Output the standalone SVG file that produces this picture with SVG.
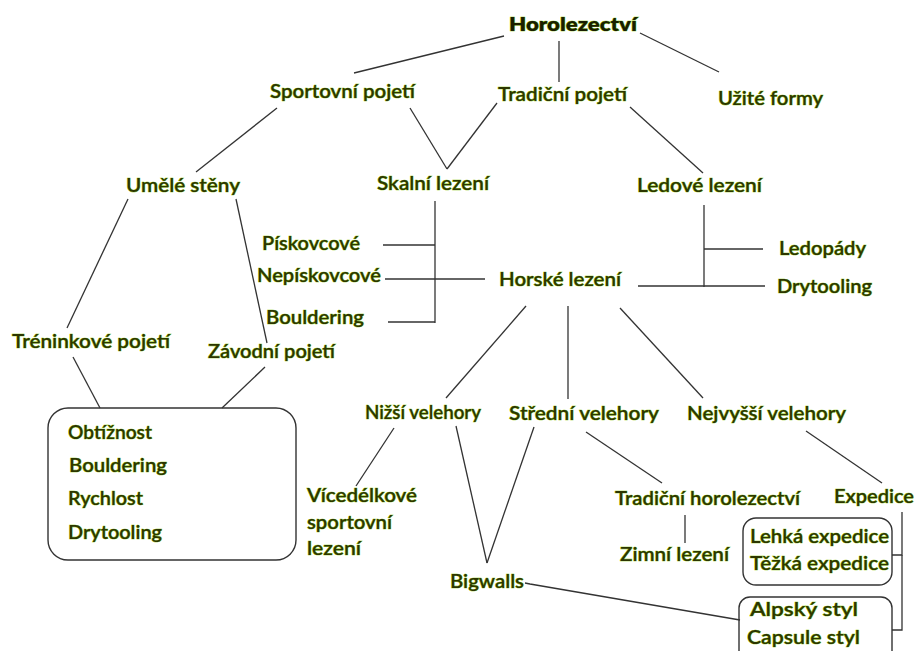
<svg xmlns="http://www.w3.org/2000/svg" width="916" height="651" viewBox="0 0 916 651">
<style>
text{font-family:Lato,"Open Sans","Liberation Sans",sans-serif;font-size:18.5px;font-weight:600;fill:#2c3600;stroke:#8cc800;stroke-width:0.7px;paint-order:stroke fill}
.b{font-weight:800;fill:#1a1f00}
.c line,.c polyline{stroke:#333;stroke-width:1.3;fill:none}
.box{fill:none;stroke:#333;stroke-width:1.4}
</style>
<rect width="916" height="651" fill="#fff"/>
<g class="c" id="connectors">
<line x1="504" y1="36" x2="354" y2="73"/>
<line x1="559" y1="41" x2="559" y2="82"/>
<line x1="640" y1="33" x2="719" y2="72"/>
<line x1="277" y1="108" x2="196" y2="172"/>
<line x1="410" y1="108" x2="447" y2="169"/>
<line x1="497" y1="103" x2="447" y2="169"/>
<line x1="630" y1="107" x2="703" y2="173"/>
<line x1="128" y1="199" x2="67" y2="328"/>
<line x1="236" y1="199" x2="267" y2="343"/>
<line x1="73" y1="357" x2="100" y2="408"/>
<line x1="265" y1="367" x2="222" y2="408"/>
<line x1="435" y1="201" x2="435" y2="323"/>
<line x1="383" y1="245" x2="435" y2="245"/>
<line x1="385" y1="279" x2="485" y2="279"/>
<line x1="388" y1="322" x2="435" y2="322"/>
<line x1="704" y1="205" x2="704" y2="287"/>
<line x1="704" y1="249" x2="763" y2="249"/>
<line x1="638" y1="286" x2="765" y2="286"/>
<line x1="526" y1="306" x2="446" y2="398"/>
<line x1="568" y1="306" x2="568" y2="399"/>
<line x1="620" y1="308" x2="703" y2="398"/>
<line x1="394" y1="428" x2="356" y2="486"/>
<line x1="456" y1="426" x2="487" y2="563"/>
<line x1="534" y1="427" x2="487" y2="563"/>
<line x1="586" y1="432" x2="662" y2="483"/>
<line x1="806" y1="431" x2="882" y2="483"/>
<line x1="685" y1="515" x2="685" y2="543"/>
<polyline points="525,583 530,584 740,620"/>
<polyline points="892,555 902,555 902,512"/>
<polyline points="902,555 902,630 892,630"/>
</g>
<g id="n-horolezectvi"><text class="b" x="509" y="31" textLength="128" lengthAdjust="spacingAndGlyphs">Horolezectví</text></g>
<g id="n-sportovni"><text x="270" y="98" textLength="145" lengthAdjust="spacingAndGlyphs">Sportovní pojetí</text></g>
<g id="n-tradicni"><text x="498" y="101" textLength="129" lengthAdjust="spacingAndGlyphs">Tradiční pojetí</text></g>
<g id="n-uzite"><text x="718" y="105" textLength="105" lengthAdjust="spacingAndGlyphs">Užité formy</text></g>
<g id="n-umele"><text x="126" y="192" textLength="114" lengthAdjust="spacingAndGlyphs">Umělé stěny</text></g>
<g id="n-skalni"><text x="377" y="190" textLength="112" lengthAdjust="spacingAndGlyphs">Skalní lezení</text></g>
<g id="n-ledove"><text x="637" y="192" textLength="125" lengthAdjust="spacingAndGlyphs">Ledové lezení</text></g>
<g id="n-piskovcove"><text x="262" y="250" textLength="98" lengthAdjust="spacingAndGlyphs">Pískovcové</text></g>
<g id="n-nepiskovcove"><text x="257" y="282" textLength="124" lengthAdjust="spacingAndGlyphs">Nepískovcové</text></g>
<g id="n-bouldering1"><text x="266" y="324" textLength="98" lengthAdjust="spacingAndGlyphs">Bouldering</text></g>
<g id="n-horske"><text x="499" y="286" textLength="122" lengthAdjust="spacingAndGlyphs">Horské lezení</text></g>
<g id="n-ledopady"><text x="779" y="255" textLength="87" lengthAdjust="spacingAndGlyphs">Ledopády</text></g>
<g id="n-drytooling1"><text x="777" y="293" textLength="95" lengthAdjust="spacingAndGlyphs">Drytooling</text></g>
<g id="n-treninkove"><text x="12" y="348" textLength="158" lengthAdjust="spacingAndGlyphs">Tréninkové pojetí</text></g>
<g id="n-zavodni"><text x="208" y="358" textLength="127" lengthAdjust="spacingAndGlyphs">Závodní pojetí</text></g>
<g id="n-discipliny">
<rect class="box" x="48" y="408" width="248" height="152" rx="20"/>
<text x="68" y="439" textLength="84" lengthAdjust="spacingAndGlyphs">Obtížnost</text>
<text x="69" y="472" textLength="98" lengthAdjust="spacingAndGlyphs">Bouldering</text>
<text x="68" y="505" textLength="75" lengthAdjust="spacingAndGlyphs">Rychlost</text>
<text x="68" y="539" textLength="94" lengthAdjust="spacingAndGlyphs">Drytooling</text>
</g>
<g id="n-nizsi"><text x="365" y="419" textLength="116" lengthAdjust="spacingAndGlyphs">Nižší velehory</text></g>
<g id="n-stredni"><text x="509" y="420" textLength="150" lengthAdjust="spacingAndGlyphs">Střední velehory</text></g>
<g id="n-nejvyssi"><text x="687" y="420" textLength="159" lengthAdjust="spacingAndGlyphs">Nejvyšší velehory</text></g>
<g id="n-vicedelkove">
<text x="307" y="502" textLength="110" lengthAdjust="spacingAndGlyphs">Vícedélkové</text>
<text x="307" y="529" textLength="85" lengthAdjust="spacingAndGlyphs">sportovní</text>
<text x="307" y="555" textLength="54" lengthAdjust="spacingAndGlyphs">lezení</text>
</g>
<g id="n-tradhoro"><text x="615" y="505" textLength="185" lengthAdjust="spacingAndGlyphs">Tradiční horolezectví</text></g>
<g id="n-expedice"><text x="834" y="503" textLength="80" lengthAdjust="spacingAndGlyphs">Expedice</text></g>
<g id="n-zimni"><text x="620" y="561" textLength="109" lengthAdjust="spacingAndGlyphs">Zimní lezení</text></g>
<g id="n-bigwalls"><text x="450" y="588" textLength="74" lengthAdjust="spacingAndGlyphs">Bigwalls</text></g>
<g id="n-expedice-typ">
<rect class="box" x="743" y="518" width="149" height="67" rx="13"/>
<text x="750" y="543" textLength="139" lengthAdjust="spacingAndGlyphs">Lehká expedice</text>
<text x="750" y="570" textLength="139" lengthAdjust="spacingAndGlyphs">Těžká expedice</text>
</g>
<g id="n-styl">
<rect class="box" x="739" y="597" width="153" height="66" rx="11"/>
<text x="750" y="616" textLength="108" lengthAdjust="spacingAndGlyphs">Alpský styl</text>
<text x="747" y="644" textLength="113" lengthAdjust="spacingAndGlyphs">Capsule styl</text>
</g>
</svg>
